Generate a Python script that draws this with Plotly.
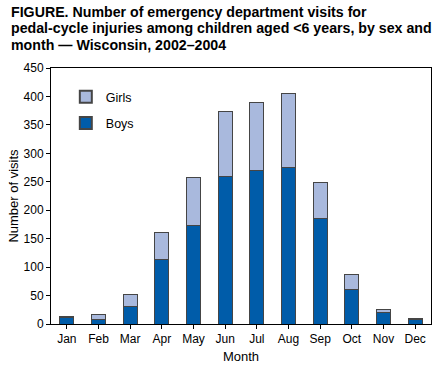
import plotly.graph_objects as go

months = ["Jan", "Feb", "Mar", "Apr", "May", "Jun", "Jul", "Aug", "Sep", "Oct", "Nov", "Dec"]
boys = [12, 8, 31, 114, 174, 260, 269, 275, 186, 61, 20, 8]
girls = [2, 8, 21, 46, 84, 114, 121, 130, 63, 26, 6, 1]
y_ticks = [0, 50, 100, 150, 200, 250, 300, 350, 400, 450]
title_lines = [
    "FIGURE. Number of emergency department visits for",
    "pedal-cycle injuries among children aged &lt;6 years, by sex and",
    "month — Wisconsin, 2002–2004",
]

FONT = "Liberation Sans, Arial, sans-serif"
edge = dict(color="#454545", width=1)

W, H = 444, 374
ML, MR, MT, MB = 50, 12, 68, 48
plot_h = H - MT - MB

fig = go.Figure()
fig.add_trace(go.Bar(x=months, y=boys, name="Boys", legendgroup="b", legendrank=2,
                     marker=dict(color="#005ca9", line=edge), width=0.44))
fig.add_trace(go.Bar(x=months, y=girls, name="Girls", legendgroup="g", legendrank=1,
                     marker=dict(color="#a9b9dd", line=edge), width=0.44))

annotations = []
for i, line in enumerate(title_lines):
    top_px = 1 + 17 * i
    annotations.append(dict(
        text="<b>" + line + "</b>", xref="paper", yref="paper",
        x=(8 - ML) / (W - ML - MR), y=(H - MB - top_px) / plot_h,
        xanchor="left", yanchor="top", showarrow=False,
        font=dict(family=FONT, size=14.2, color="#000"),
    ))

fig.update_layout(
    barmode="stack",
    width=W, height=H,
    margin=dict(l=ML, r=MR, t=MT, b=MB),
    paper_bgcolor="white", plot_bgcolor="white",
    font=dict(family=FONT, size=12, color="#000"),
    showlegend=True,
    legend=dict(x=0.039, y=0.945, xanchor="left", yanchor="top", traceorder="grouped",
                font=dict(size=12.5), tracegroupgap=7, itemsizing="constant",
                bgcolor="rgba(0,0,0,0)"),
    annotations=annotations,
)
fig.update_xaxes(
    showline=True, linecolor="#000", linewidth=1, mirror=True,
    ticks="outside", ticklen=4, tickcolor="#000",
    range=[-0.5, 11.5],
    title=dict(text="Month", font=dict(size=13), standoff=6),
    tickfont=dict(size=12),
)
fig.update_yaxes(
    showline=True, linecolor="#000", linewidth=1, mirror=True,
    ticks="outside", ticklen=4, tickcolor="#000",
    range=[0, 450], tickvals=y_ticks, showgrid=False, zeroline=False,
    title=dict(text="Number of visits", font=dict(size=13), standoff=2),
    tickfont=dict(size=12),
)

fig.write_html("out.html", config={"displayModeBar": False},
               post_script="document.body.style.margin='0';")
